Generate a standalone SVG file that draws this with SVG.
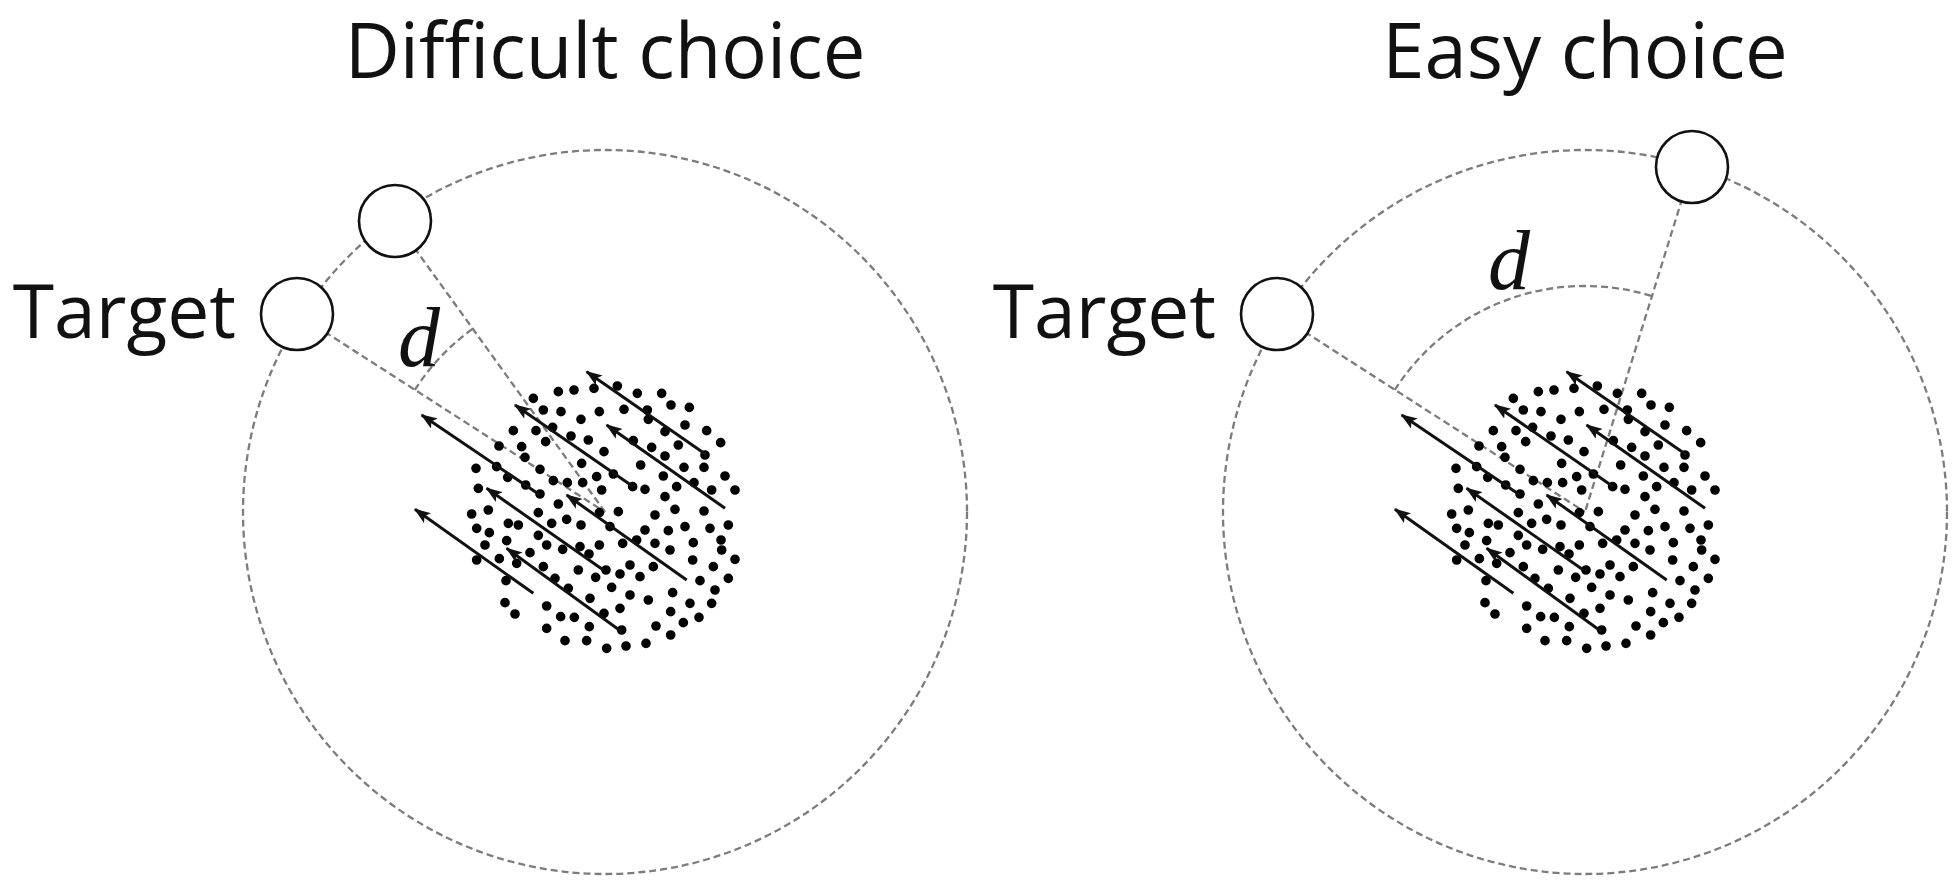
<svg xmlns="http://www.w3.org/2000/svg" xmlns:xlink="http://www.w3.org/1999/xlink" width="1960" height="888" viewBox="0 0 1960 888">
<style>
.title{font-family:"Open Sans","Noto Sans",sans-serif;font-size:76px;fill:#111;text-anchor:middle}
.lbl{font-family:"Open Sans","Noto Sans",sans-serif;font-size:75px;fill:#111;text-anchor:end}
.d{font-family:"Liberation Serif",serif;font-style:italic;font-size:84px;fill:#111}
.dash{fill:none;stroke:#7c7c7c;stroke-width:2.3;stroke-dasharray:7 4}
.opt{fill:#fff;stroke:#111;stroke-width:2.6}
.dots{fill:none;stroke:#000;stroke-width:29;stroke-linecap:round}
.arr{fill:none;stroke:#111;stroke-width:9;marker-end:url(#ah)}
</style>
<defs>
<marker id="ah" markerUnits="userSpaceOnUse" viewBox="0 0 50 36" markerWidth="50" markerHeight="36" refX="46" refY="18" orient="auto">
<path d="M0,0 L50,18 L0,36 L11,18 z" fill="#111"/>
</marker>
<g id="field">
<path class="dots" d="M475 125h0M522 120h0M582 115h0M652 108h0M712 130h0M785 130h0M400 145h0M430 180h0M483 185h0M543 208h0M598 185h0M672 178h0M742 180h0M813 165h0M868 172h0M340 242h0M408 242h0M458 232h0M513 258h0M565 270h0M437 275h0M745 208h0M795 245h0M855 225h0M920 242h0M962 278h0M297 288h0M365 290h0M375 322h0M545 340h0M612 305h0M700 272h0M755 292h0M795 318h0M835 285h0M915 315h0M228 355h0M290 350h0M323 382h0M377 405h0M420 358h0M460 392h0M502 398h0M548 398h0M590 380h0M640 372h0M722 345h0M790 378h0M852 352h0M912 352h0M975 378h0M235 415h0M420 432h0M605 420h0M698 410h0M735 418h0M795 440h0M830 410h0M882 398h0M935 420h0M1005 420h0M215 492h0M265 480h0M415 488h0M475 462h0M500 508h0M543 525h0M598 488h0M655 485h0M765 495h0M825 478h0M912 483h0M985 525h0M230 535h0M268 548h0M325 520h0M355 525h0M415 556h0M455 520h0M630 530h0M735 540h0M805 542h0M855 530h0M930 535h0M963 570h0M255 585h0M320 572h0M390 608h0M440 585h0M488 598h0M540 590h0M567 612h0M598 585h0M668 580h0M710 570h0M765 580h0M810 600h0M880 578h0M965 600h0M1005 628h0M230 630h0M298 626h0M350 640h0M430 650h0M535 660h0M587 682h0M618 660h0M660 672h0M690 645h0M720 680h0M760 650h0M878 630h0M940 650h0M318 692h0M465 685h0M505 715h0M570 745h0M635 712h0M690 735h0M745 750h0M818 728h0M900 692h0M985 685h0M945 720h0M315 758h0M345 792h0M440 768h0M612 790h0M660 775h0M812 785h0M870 760h0M935 760h0M440 835h0M482 800h0M523 802h0M568 830h0M665 840h0M768 828h0M850 818h0M897 802h0M812 855h0M495 872h0M560 872h0M620 895h0M678 888h0M738 880h0"/>
<path class="arr" d="M920,315 L560,65"/>
<path class="arr" d="M700,410 L345,165"/>
<path class="arr" d="M975,475 L620,225"/>
<path class="arr" d="M420,435 L65,195"/>
<path class="arr" d="M610,660 L260,415"/>
<path class="arr" d="M860,690 L500,435"/>
<path class="arr" d="M400,730 L45,478"/>
<path class="arr" d="M665,845 L320,595"/>
</g>
</defs>

<g id="connectors">
<circle class="dash" cx="605" cy="512" r="362"/>
<path class="dash" d="M297,314 L605,512"/>
<path class="dash" d="M395,221 L605,512"/>
<path class="dash" d="M414.8,389.9 A226,226 0 0 1 472.8,328.7"/>
<circle class="dash" cx="1585" cy="512" r="362"/>
<path class="dash" d="M1277,314 L1585,512"/>
<path class="dash" d="M1692,167 L1585,512"/>
<path class="dash" d="M1394.8,389.9 A226,226 0 0 1 1651.8,296.1"/>
</g>

<g id="title-difficult"><text class="title" x="605" y="78">Difficult choice</text></g>
<g id="title-easy"><text class="title" x="1585" y="78">Easy choice</text></g>

<g id="dots-difficult"><use xlink:href="#field" transform="translate(400,350) scale(0.33333)"/></g>
<g id="dots-easy"><use xlink:href="#field" transform="translate(1380,350) scale(0.33333)"/></g>

<g id="target-difficult"><circle class="opt" cx="297" cy="314" r="36"/><text class="lbl" x="236" y="338">Target</text></g>
<g id="option-difficult"><circle class="opt" cx="395" cy="221" r="36"/></g>
<g id="d-difficult"><text class="d" x="398" y="366">d</text></g>

<g id="target-easy"><circle class="opt" cx="1277" cy="314" r="36"/><text class="lbl" x="1216" y="338">Target</text></g>
<g id="option-easy"><circle class="opt" cx="1692" cy="167" r="36"/></g>
<g id="d-easy"><text class="d" x="1488" y="289">d</text></g>
</svg>
